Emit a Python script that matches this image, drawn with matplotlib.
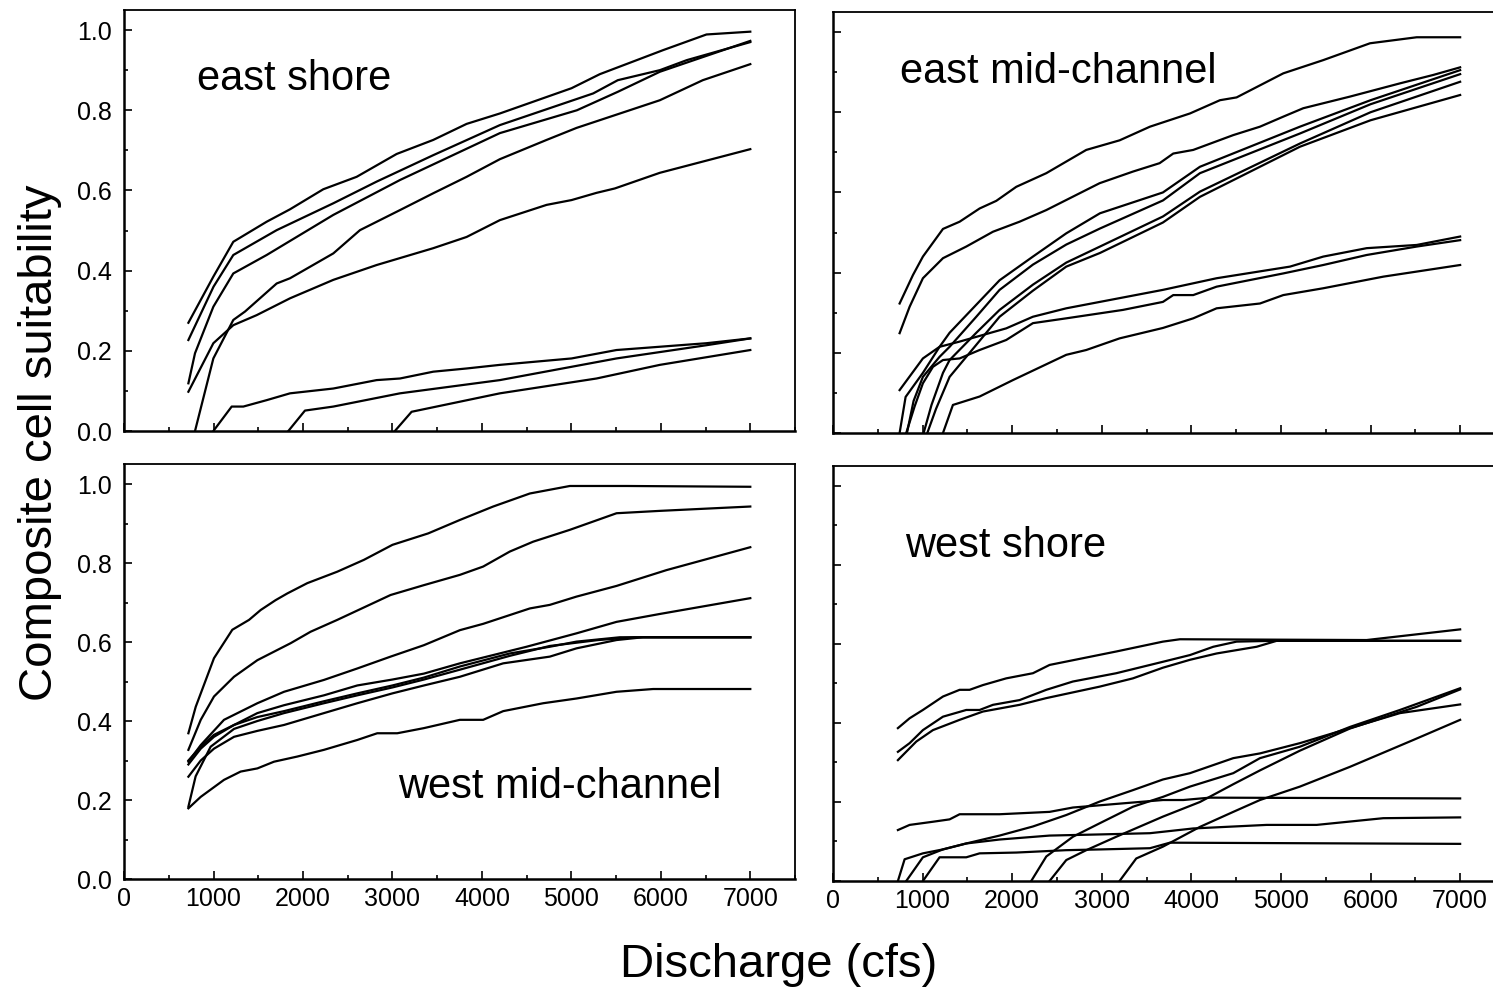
import matplotlib
matplotlib.use('Agg')
import matplotlib.pyplot as plt
from matplotlib.ticker import MultipleLocator, FormatStrFormatter

plt.rcParams['font.family'] = ['Liberation Sans', 'DejaVu Sans']

# ---- east shore (top left) ----
es_x = [
    [719, 998, 1221, 1594, 1855, 2227, 2600, 3047, 3456, 3829, 4201, 5002, 5318, 6026, 6510, 7000],
    [719, 1000, 1221, 1706, 2339, 2823, 3456, 4201, 5244, 5519, 5989, 6290, 7000],
    [719, 793, 998, 1221, 1594, 2339, 3084, 4201, 5062, 5519, 5989, 7000],
    [719, 998, 1221, 1482, 1855, 2339, 2823, 3456, 3829, 4201, 4723, 5002, 5281, 5486, 5989, 7000],
    [793, 998, 1221, 1352, 1706, 1855, 2339, 2637, 3084, 3456, 3829, 4201, 4723, 5058, 5989, 6469, 7000],
    [998, 1203, 1333, 1594, 1855, 2339, 2823, 3084, 3456, 3829, 4201, 5002, 5504, 6510, 7000],
    [1836, 2022, 2339, 3084, 4201, 5504, 6510, 7000],
    [3027, 3214, 4201, 5281, 5989, 7000],
]
es_y = [
    [0.270, 0.385, 0.472, 0.522, 0.553, 0.603, 0.634, 0.691, 0.726, 0.766, 0.792, 0.855, 0.890, 0.950, 0.989, 0.996],
    [0.227, 0.360, 0.439, 0.501, 0.568, 0.622, 0.688, 0.763, 0.842, 0.875, 0.900, 0.925, 0.970],
    [0.119, 0.194, 0.310, 0.393, 0.439, 0.539, 0.626, 0.743, 0.800, 0.846, 0.896, 0.973],
    [0.098, 0.219, 0.264, 0.289, 0.331, 0.377, 0.414, 0.456, 0.484, 0.526, 0.564, 0.576, 0.594, 0.605, 0.644, 0.703],
    [0.0, 0.181, 0.277, 0.298, 0.368, 0.381, 0.443, 0.501, 0.551, 0.593, 0.634, 0.678, 0.726, 0.756, 0.825, 0.875, 0.915],
    [0.0, 0.061, 0.061, 0.077, 0.094, 0.106, 0.127, 0.131, 0.148, 0.156, 0.165, 0.181, 0.202, 0.219, 0.231],
    [0.0, 0.051, 0.061, 0.094, 0.127, 0.181, 0.214, 0.231],
    [0.0, 0.048, 0.094, 0.131, 0.165, 0.202],
]

# ---- east mid-channel (top right) ----
em_x = [
    [744, 893, 1004, 1228, 1414, 1637, 1823, 2046, 2381, 2604, 2827, 3200, 3538, 3985, 4319, 4505, 5026, 5472, 5994, 6515, 7000],
    [744, 856, 1004, 1228, 1488, 1786, 2083, 2381, 2976, 3348, 3646, 3798, 4021, 4468, 4766, 5026, 5249, 5770, 6328, 6700, 7000],
    [744, 811, 1004, 1190, 1302, 1600, 1860, 2232, 2604, 2980, 3683, 4096, 5212, 6000, 7000],
    [826, 900, 1004, 1190, 1302, 1600, 1860, 2232, 2604, 2980, 3683, 4096, 5212, 6000, 7000],
    [1012, 1100, 1228, 1302, 1600, 1860, 2232, 2604, 2980, 3683, 4096, 5212, 6000, 7000],
    [1053, 1150, 1302, 1600, 1860, 2232, 2604, 2980, 3683, 4096, 5212, 6000, 7000],
    [744, 1004, 1190, 1414, 1934, 2232, 2604, 3683, 4282, 5101, 5472, 5957, 6515, 7000],
    [818, 911, 1004, 1116, 1228, 1414, 1637, 1934, 2232, 2604, 3236, 3683, 3798, 4021, 4282, 5026, 5472, 5957, 6515, 7000],
    [1228, 1339, 1637, 2009, 2604, 2827, 3199, 3683, 4021, 4282, 4766, 5026, 5472, 6143, 7000],
]
em_y = [
    [0.323, 0.394, 0.440, 0.509, 0.527, 0.560, 0.579, 0.614, 0.648, 0.677, 0.706, 0.730, 0.764, 0.797, 0.830, 0.837, 0.897, 0.930, 0.972, 0.987, 0.987],
    [0.249, 0.315, 0.386, 0.436, 0.465, 0.502, 0.527, 0.556, 0.623, 0.652, 0.673, 0.697, 0.706, 0.743, 0.764, 0.789, 0.810, 0.839, 0.872, 0.893, 0.912],
    [0.0, 0.090, 0.150, 0.215, 0.250, 0.320, 0.381, 0.440, 0.498, 0.548, 0.600, 0.664, 0.764, 0.830, 0.905],
    [0.0, 0.080, 0.140, 0.190, 0.215, 0.290, 0.357, 0.420, 0.470, 0.510, 0.580, 0.648, 0.747, 0.820, 0.895],
    [0.0, 0.070, 0.150, 0.182, 0.250, 0.307, 0.370, 0.425, 0.465, 0.540, 0.602, 0.722, 0.800, 0.876],
    [0.0, 0.060, 0.140, 0.220, 0.290, 0.355, 0.415, 0.449, 0.525, 0.589, 0.714, 0.780, 0.843],
    [0.107, 0.186, 0.215, 0.228, 0.261, 0.290, 0.311, 0.357, 0.386, 0.415, 0.440, 0.461, 0.469, 0.490],
    [0.0, 0.066, 0.124, 0.165, 0.182, 0.186, 0.207, 0.232, 0.274, 0.286, 0.307, 0.327, 0.344, 0.344, 0.365, 0.398, 0.419, 0.444, 0.465, 0.481],
    [0.0, 0.070, 0.091, 0.132, 0.195, 0.207, 0.236, 0.262, 0.286, 0.311, 0.323, 0.344, 0.361, 0.390, 0.419],
]

# ---- west mid-channel (bottom left) ----
wm_x = [
    [719, 801, 1005, 1210, 1397, 1527, 1694, 1825, 2048, 2383, 2681, 3000, 3400, 3754, 4126, 4536, 4983, 5617, 7000],
    [719, 857, 1005, 1229, 1490, 1862, 2085, 2383, 2979, 3352, 3754, 4014, 4312, 4573, 4983, 5505, 5989, 7000],
    [719, 857, 1117, 1490, 1788, 2234, 2607, 2979, 3352, 3754, 4014, 4536, 4759, 5058, 5505, 6063, 7000],
    [719, 857, 1005, 1229, 1490, 1788, 2234, 2607, 3000, 3352, 3754, 4499, 5058, 5505, 5989, 7000],
    [719, 857, 1005, 1229, 1490, 1788, 2234, 2607, 3000, 3352, 3754, 4312, 4759, 5058, 5542, 7000],
    [719, 857, 1005, 1229, 1490, 1788, 2234, 2607, 3000, 3352, 3754, 4238, 4759, 5058, 5505, 5800, 7000],
    [719, 800, 968, 1229, 1490, 1788, 2234, 2607, 3000, 3352, 3754, 4312, 4759, 5300, 5700, 7000],
    [719, 857, 1117, 1303, 1490, 1676, 1936, 2234, 2607, 2830, 3054, 3352, 3754, 4014, 4238, 4685, 5058, 5505, 5914, 7000],
]
wm_y = [
    [0.369, 0.436, 0.559, 0.631, 0.656, 0.681, 0.706, 0.723, 0.749, 0.778, 0.808, 0.846, 0.875, 0.909, 0.943, 0.976, 0.995, 0.995, 0.993],
    [0.327, 0.403, 0.462, 0.512, 0.554, 0.597, 0.626, 0.656, 0.719, 0.744, 0.770, 0.791, 0.829, 0.854, 0.884, 0.926, 0.932, 0.943],
    [0.297, 0.339, 0.403, 0.445, 0.474, 0.504, 0.533, 0.563, 0.592, 0.630, 0.646, 0.685, 0.694, 0.715, 0.742, 0.782, 0.840],
    [0.290, 0.330, 0.360, 0.390, 0.420, 0.440, 0.465, 0.490, 0.505, 0.520, 0.546, 0.588, 0.622, 0.651, 0.671, 0.711],
    [0.300, 0.335, 0.365, 0.390, 0.410, 0.425, 0.450, 0.470, 0.490, 0.510, 0.538, 0.571, 0.588, 0.601, 0.612, 0.612],
    [0.259, 0.300, 0.330, 0.360, 0.375, 0.390, 0.420, 0.445, 0.470, 0.490, 0.512, 0.546, 0.563, 0.584, 0.605, 0.612, 0.612],
    [0.183, 0.260, 0.335, 0.380, 0.400, 0.420, 0.445, 0.465, 0.485, 0.505, 0.530, 0.565, 0.590, 0.605, 0.612, 0.612],
    [0.179, 0.208, 0.251, 0.272, 0.280, 0.297, 0.310, 0.327, 0.352, 0.369, 0.369, 0.382, 0.403, 0.403, 0.425, 0.445, 0.457, 0.474, 0.481, 0.481],
]

# ---- west shore (bottom right) ----
ws_x = [
    [725, 856, 1004, 1228, 1414, 1525, 1674, 1934, 2232, 2418, 2790, 3162, 3683, 3873, 5956, 7000],
    [725, 856, 1004, 1228, 1488, 1637, 1786, 2083, 2381, 2678, 3162, 3683, 3985, 4245, 4505, 4914, 7000],
    [725, 930, 1116, 1414, 1674, 2083, 2381, 2976, 3348, 3683, 3985, 4282, 4729, 4952, 7000],
    [725, 856, 1116, 1302, 1414, 1860, 2418, 2678, 3683, 3910, 4208, 7000],
    [725, 800, 1004, 1228, 1488, 1860, 2418, 3000, 3538, 4021, 4840, 5398, 6142, 7000],
    [818, 1004, 1228, 1488, 1860, 2232, 2604, 2976, 3348, 3683, 3985, 4468, 4766, 5212, 5770, 6328, 7000],
    [1004, 1190, 1488, 1637, 2046, 2600, 3000, 3538, 3761, 7000],
    [2213, 2381, 2678, 2976, 3348, 3683, 3985, 4468, 4766, 5212, 5770, 6328, 7000],
    [2418, 2604, 2827, 3162, 3683, 4096, 4468, 4766, 5212, 5770, 6515, 7000],
    [3199, 3385, 3683, 4096, 4468, 4766, 5212, 5770, 6477, 7000],
]
ws_y = [
    [0.387, 0.412, 0.433, 0.467, 0.484, 0.484, 0.496, 0.513, 0.526, 0.547, 0.564, 0.581, 0.606, 0.612, 0.610, 0.637],
    [0.327, 0.349, 0.382, 0.416, 0.433, 0.433, 0.446, 0.458, 0.484, 0.505, 0.526, 0.555, 0.572, 0.593, 0.606, 0.608, 0.608],
    [0.306, 0.353, 0.382, 0.408, 0.429, 0.446, 0.463, 0.492, 0.513, 0.540, 0.560, 0.576, 0.593, 0.608, 0.608],
    [0.129, 0.142, 0.150, 0.156, 0.169, 0.169, 0.175, 0.186, 0.205, 0.205, 0.211, 0.209],
    [0.0, 0.055, 0.070, 0.080, 0.095, 0.105, 0.115, 0.118, 0.121, 0.133, 0.142, 0.142, 0.159, 0.161],
    [0.0, 0.060, 0.080, 0.095, 0.115, 0.138, 0.167, 0.201, 0.230, 0.257, 0.273, 0.311, 0.323, 0.349, 0.387, 0.425, 0.447],
    [0.0, 0.060, 0.060, 0.070, 0.072, 0.078, 0.080, 0.083, 0.097, 0.094],
    [0.0, 0.062, 0.112, 0.146, 0.188, 0.213, 0.239, 0.273, 0.311, 0.340, 0.390, 0.433, 0.488],
    [0.0, 0.053, 0.078, 0.112, 0.163, 0.200, 0.245, 0.280, 0.330, 0.386, 0.441, 0.485],
    [0.0, 0.057, 0.087, 0.137, 0.175, 0.205, 0.239, 0.289, 0.357, 0.408],
]

fig = plt.figure(figsize=(14.93, 9.92), dpi=100)


def panel(rect, xs, ys, label, lx, ly, show_x, show_y):
    ax = fig.add_axes(rect)
    for x, y in zip(xs, ys):
        ax.plot(x, y, color='black', lw=1.6, solid_joinstyle='round')
    ax.set_xlim(0, 7500)
    ax.set_ylim(0, 1.05)
    ax.xaxis.set_major_locator(MultipleLocator(1000))
    ax.xaxis.set_minor_locator(MultipleLocator(500))
    ax.yaxis.set_major_locator(MultipleLocator(0.2))
    ax.yaxis.set_minor_locator(MultipleLocator(0.1))
    ax.yaxis.set_major_formatter(FormatStrFormatter('%.1f'))
    ax.tick_params(which='both', direction='in', top=False, right=False,
                   width=1.2, labelsize=18, labelbottom=show_x, labelleft=show_y)
    ax.tick_params(which='major', length=6)
    ax.tick_params(which='minor', length=3)
    ax.tick_params(axis='y', pad=9)
    ax.tick_params(axis='x', pad=6)
    ax.spines['left'].set_linewidth(1.8)
    ax.spines['bottom'].set_linewidth(1.8)
    ax.spines['top'].set_linewidth(1.3)
    ax.spines['right'].set_linewidth(1.3)
    ax.text(lx, ly, label, fontsize=30, ha='left', va='baseline')
    return ax


panel([0.0831, 0.5655, 0.4494, 0.4244], es_x, es_y, 'east shore', 816, 0.850, False, True)
panel([0.5579, 0.5635, 0.4501, 0.4244], em_x, em_y, 'east mid-channel', 748, 0.873, False, False)
panel([0.0831, 0.1139, 0.4494, 0.4181], wm_x, wm_y, 'west mid-channel', 3061, 0.205, True, True)
panel([0.5579, 0.1119, 0.4501, 0.4181], ws_x, ws_y, 'west shore', 804, 0.820, True, False)

fig.text(0.0268, 0.554, 'Composite cell suitability', rotation=90, fontsize=34,
         ha='center', va='center')
fig.text(0.5218, 0.0272, 'Discharge (cfs)', fontsize=34, ha='center', va='center')

fig.savefig('out.png', dpi=100)
